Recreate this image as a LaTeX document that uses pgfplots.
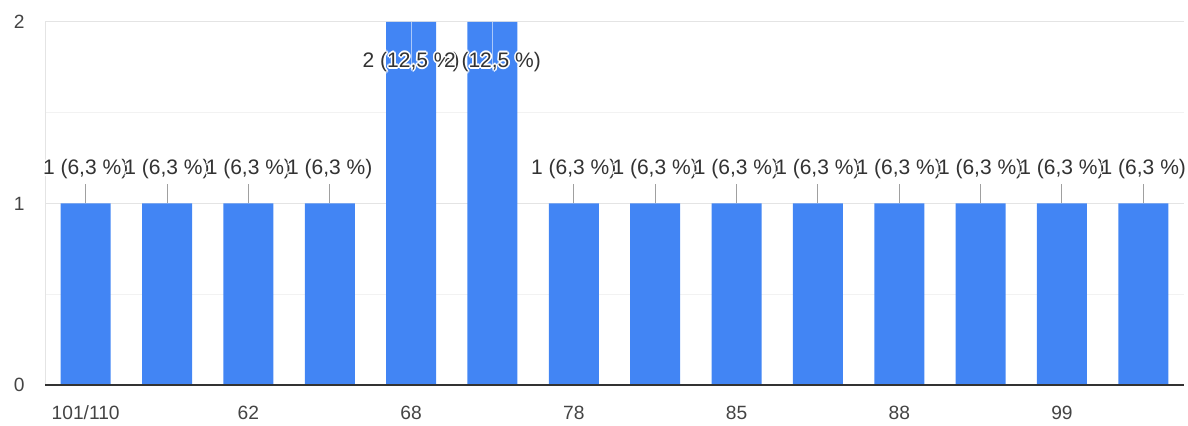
\documentclass[border=0pt]{standalone}
\usepackage{pgfplots}
\pgfplotsset{compat=1.18}
\usepackage{pgfplotstable}
\usepackage{fontspec}
\setmainfont{Liberation Sans}

\definecolor{barblue}{HTML}{4285F4}
\definecolor{labelgray}{HTML}{333333}
\definecolor{tickgray}{HTML}{444444}
\definecolor{gridgray}{HTML}{E4E4E4}
\definecolor{minorgray}{HTML}{F2F2F2}
\definecolor{leadergray}{HTML}{A0A0A0}
\definecolor{basegray}{HTML}{333333}

% white outline behind a label so it stays legible on bars and neighbours
\newcommand\halo[1]{\leavevmode
  \rlap{\textcolor{white}{\kern-.8pt#1}}%
  \rlap{\textcolor{white}{\kern.8pt#1}}%
  \rlap{\textcolor{white}{\raisebox{.8pt}{#1}}}%
  \rlap{\textcolor{white}{\raisebox{-.8pt}{#1}}}%
  \rlap{\textcolor{white}{\kern-.6pt\raisebox{.6pt}{#1}}}%
  \rlap{\textcolor{white}{\kern.6pt\raisebox{.6pt}{#1}}}%
  \rlap{\textcolor{white}{\kern-.6pt\raisebox{-.6pt}{#1}}}%
  \rlap{\textcolor{white}{\kern.6pt\raisebox{-.6pt}{#1}}}%
  #1}

% responses per answer (16 in total)
\pgfplotstableread{
idx n
0  1
1  1
2  1
3  1
4  2
5  2
6  1
7  1
8  1
9  1
10 1
11 1
12 1
13 1
}\responses

% "count (share %)" with the share of all 16 responses
\newcommand\countlabel{%
  \pgfmathprintnumberto[fixed,precision=0,assume math mode=true]{\rawcount}{\cnt}%
  \pgfmathparse{\rawcount*100/16}%
  \pgfmathprintnumberto[fixed,precision=1,use comma,assume math mode=true]{\pgfmathresult}{\pct}%
  \halo{\cnt\ (\pct\ \%)}}

\begin{document}
\begin{tikzpicture}
\begin{axis}[
  name=ax,
  scale only axis,
  width=569.5pt, height=181.5pt,
  xmin=-0.5, xmax=13.5,
  ymin=0, ymax=2,
  axis line style={draw=none},
  major tick length=0pt, minor tick length=0pt,
  tick style={draw=none},
  xtick={0,2,4,6,8,10,12},
  xticklabels={101/110,62,68,78,85,88,99},
  ytick={0,1,2},
  minor ytick={0.5,1.5},
  ymajorgrids, yminorgrids,
  major grid style={gridgray, line width=0.5pt},
  minor grid style={minorgray, line width=0.5pt},
  /pgf/number format/assume math mode=true,
  ticklabel style={font=\fontsize{9.6}{11}\selectfont, text=tickgray},
  yticklabel style={anchor=east, inner sep=0pt, xshift=-10pt},
  xticklabel style={anchor=base, inner sep=0pt, yshift=-17.25pt},
  clip=false,
]
  % left edge of the plot area
  \draw[gridgray, line width=0.5pt] (axis cs:-0.5,0) -- (axis cs:-0.5,2);

  \addplot[ybar, bar width=25pt, bar shift=0pt, fill=barblue, draw=none]
    table[x=idx, y=n] {\responses};

  % labels above the shorter bars, with leader lines
  \addplot[draw=none, no markers,
    restrict y to domain=0:1.5,
    visualization depends on={rawy \as \rawcount},
    error bars/.cd, y dir=plus, y fixed=0.105,
      error mark=none, error bar style={leadergray, line width=0.5pt},
    /pgfplots/.cd,
    nodes near coords={\countlabel},
    nodes near coords style={anchor=center, yshift=17pt, inner sep=0pt,
      font=\fontsize{10.5}{12.5}\selectfont, text=labelgray},
  ] table[x=idx, y=n] {\responses};

  % labels inside the tallest bars
  \addplot[draw=none, no markers,
    restrict y to domain=1.5:3,
    visualization depends on={rawy \as \rawcount},
    error bars/.cd, y dir=minus, y fixed=0.26,
      error mark=none, error bar style={barblue!45!white, line width=0.5pt},
    /pgfplots/.cd,
    nodes near coords={\countlabel},
    nodes near coords style={anchor=center, yshift=-20pt, inner sep=0pt,
      font=\fontsize{10.5}{12.5}\selectfont, text=labelgray},
  ] table[x=idx, y=n] {\responses};

  % baseline
  \draw[basegray, line width=0.75pt] (axis cs:-0.5,0) -- (axis cs:13.5,0);
\end{axis}
\pgfresetboundingbox
\path[use as bounding box]
  ([xshift=-22.5pt, yshift=-20.5pt]ax.south west)
  rectangle ([xshift=571.5pt, yshift=192.5pt]ax.south west);
\end{tikzpicture}
\end{document}
